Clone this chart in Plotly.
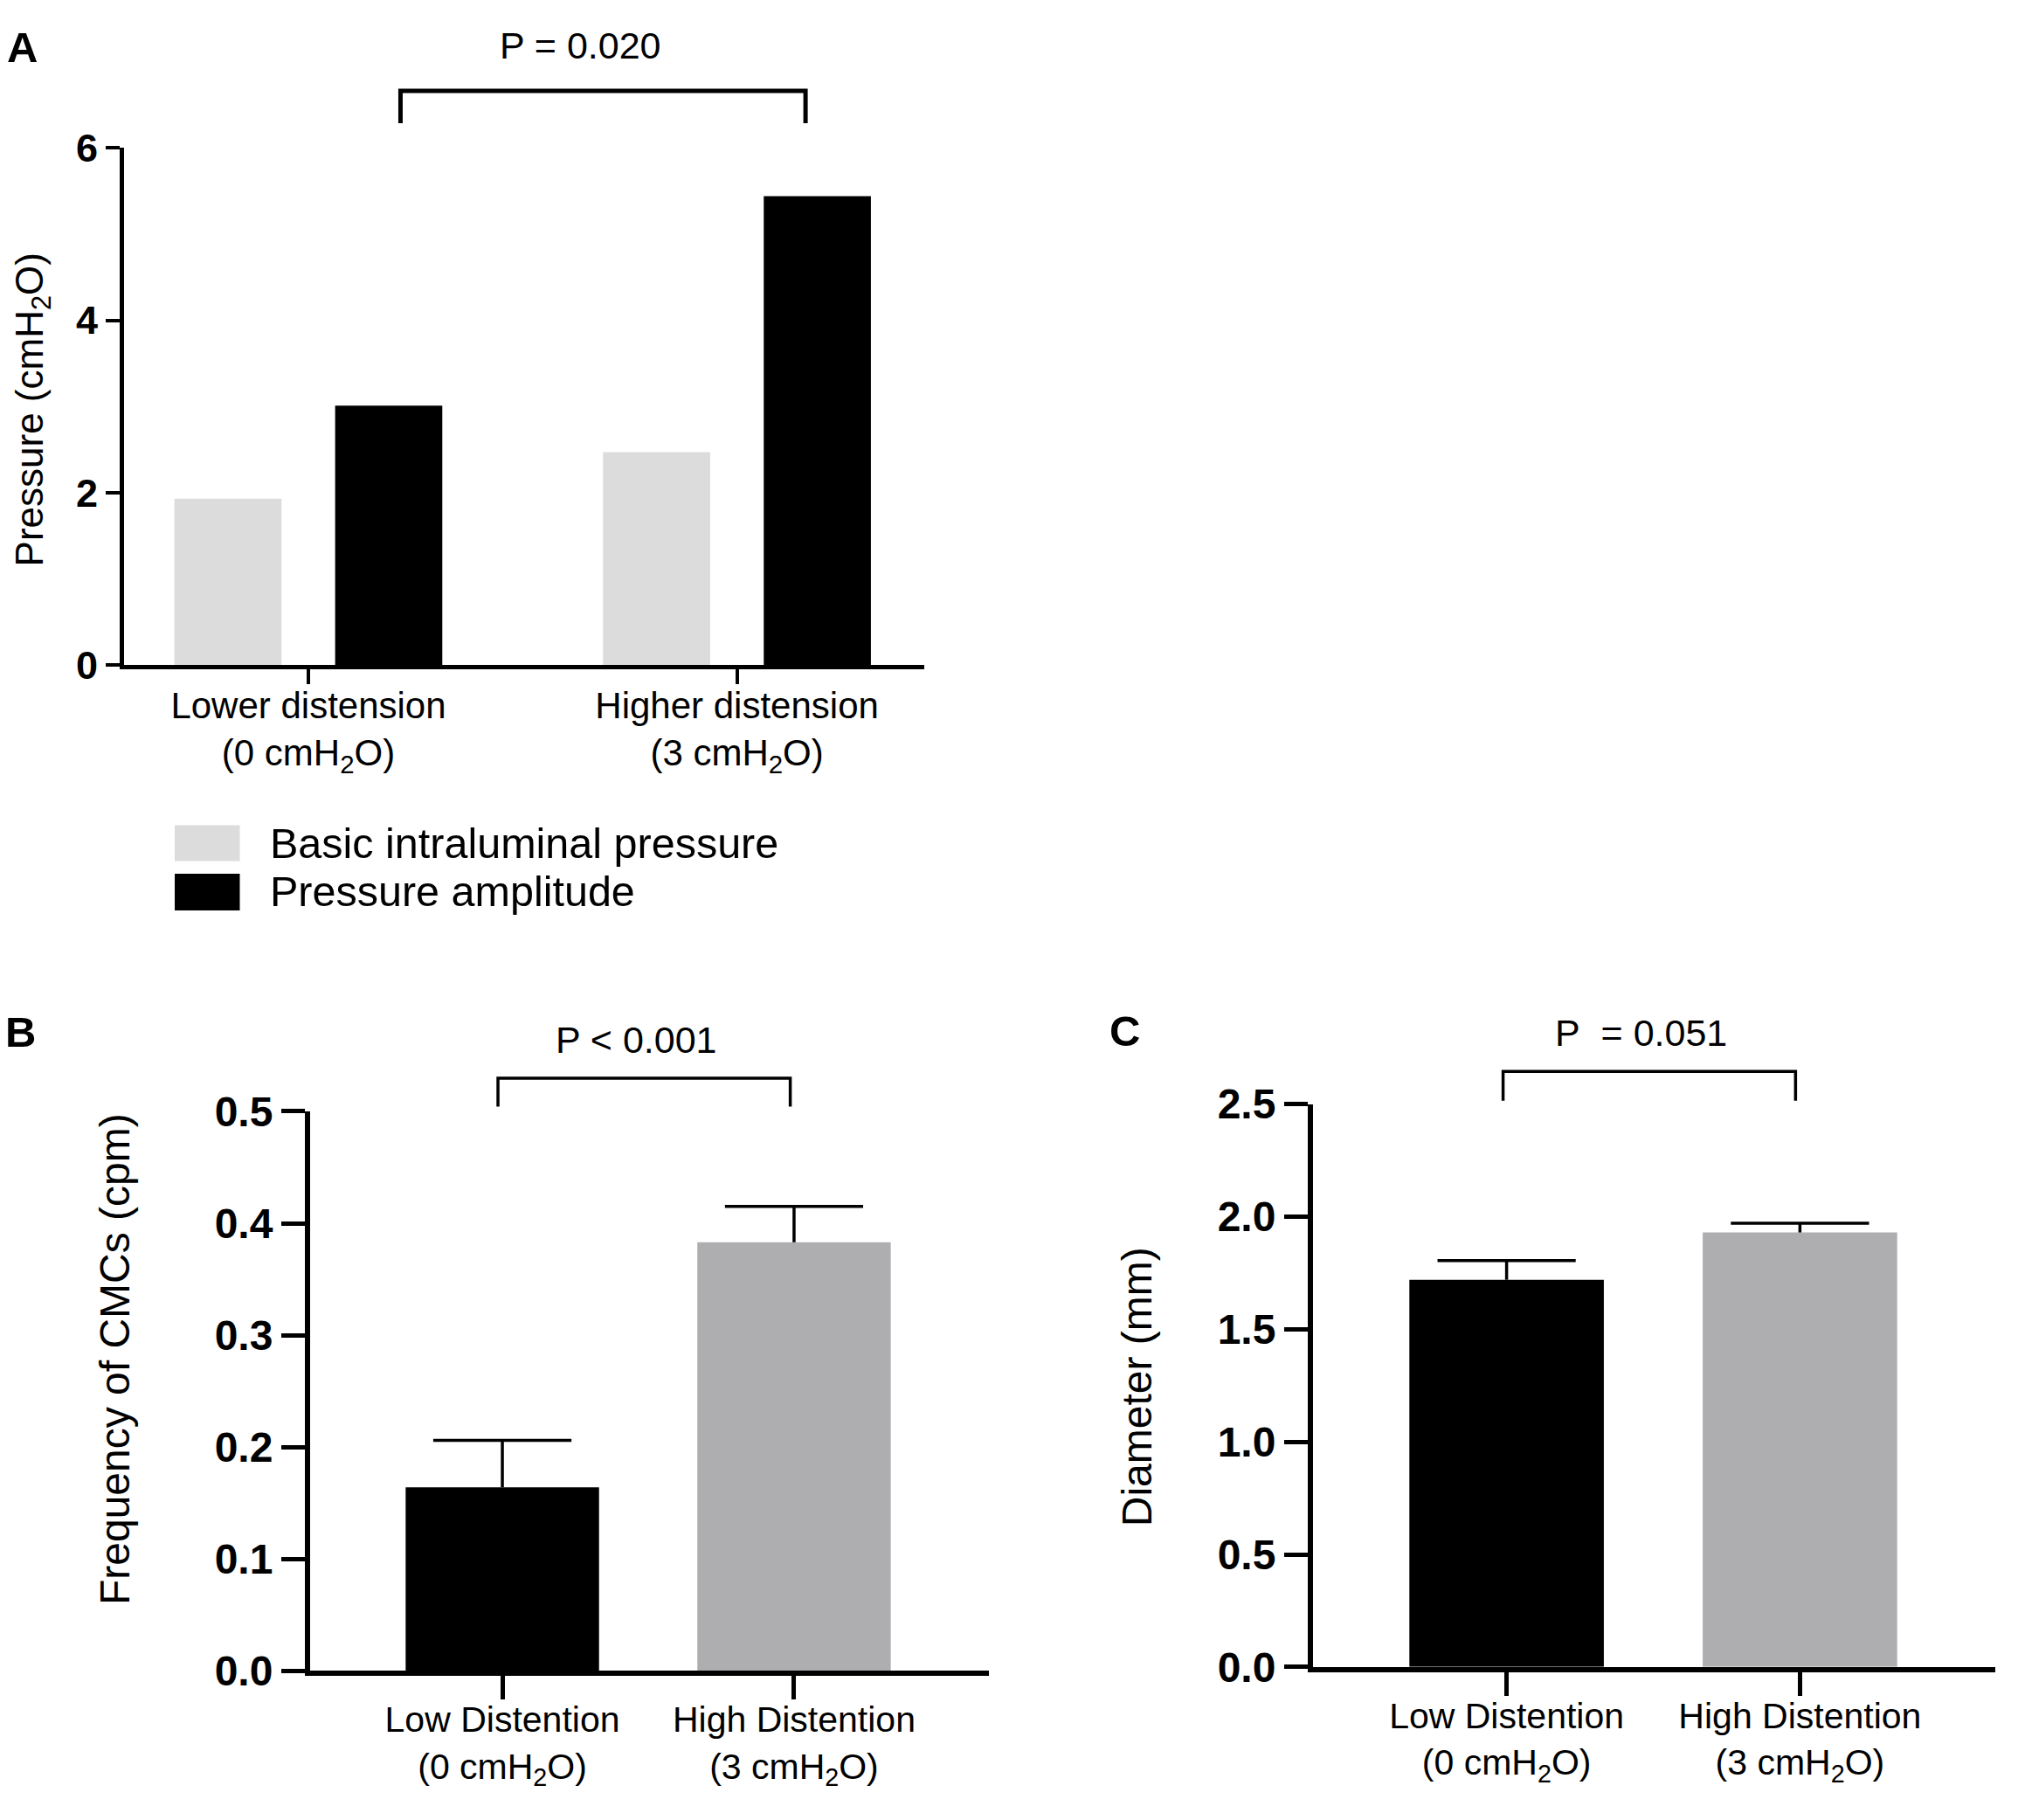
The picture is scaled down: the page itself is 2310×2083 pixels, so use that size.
import plotly.graph_objects as go

# --- data ---
# panel A: pressure by distension
groups_a = ['Lower distension<br>(0 cmH<sub>2</sub>O)', 'Higher distension<br>(3 cmH<sub>2</sub>O)']
basic_pressure = [1.93, 2.47]
pressure_amplitude = [3.01, 5.44]
legend_a = ['Basic intraluminal pressure', 'Pressure amplitude']
p_text_a = 'P = 0.020'

# panels B and C share the groups
groups_bc = ['Low Distention<br>(0 cmH<sub>2</sub>O)', 'High Distention<br>(3 cmH<sub>2</sub>O)']

# panel B: frequency of CMCs (mean, upper error)
cmc_freq = [0.164, 0.383]
cmc_err = [0.042, 0.032]
p_text_b = 'P < 0.001'

# panel C: diameter (mean, upper error)
diameter = [1.72, 1.93]
diameter_err = [0.085, 0.041]
p_text_c = 'P\u00a0 = 0.051'

W, H = 2310, 2083
FONT = 'Liberation Sans, Arial, Helvetica, sans-serif'
LIGHT = '#dcdcdc'
GREY = '#aeaeb0'


def fx(px):
    return px / W


def fy(py):
    return 1 - py / H


# plot areas in pixels
panel_a = dict(left=142, right=1058, top=147, bottom=754.5, xr=[-0.43, 1.437], yr=[0, 6])
panel_b = dict(left=355, right=1132, top=1278.5, bottom=1935.5, xr=[-0.659, 1.668], yr=[0, 0.5])
panel_c = dict(left=1503, right=2284, top=1270, bottom=1931, xr=[-0.66, 1.666], yr=[0, 2.5])


def data_px(p, v):
    x0, x1 = p['xr']
    return p['left'] + (v - x0) / (x1 - x0) * (p['right'] - p['left'])


fig = go.Figure()

# panel A bars
fig.add_trace(go.Bar(x=groups_a, y=basic_pressure, width=0.25, offset=-0.3125,
                     marker=dict(color=LIGHT, line=dict(width=0)), name=legend_a[0],
                     xaxis='x', yaxis='y'))
fig.add_trace(go.Bar(x=groups_a, y=pressure_amplitude, width=0.25, offset=0.0625,
                     marker=dict(color='black', line=dict(width=0)), name=legend_a[1],
                     xaxis='x', yaxis='y'))

# panels B and C bars with upper error bars
for vals, errs, xa, ya in [(cmc_freq, cmc_err, 'x2', 'y2'), (diameter, diameter_err, 'x3', 'y3')]:
    fig.add_trace(go.Bar(x=groups_bc, y=vals, width=0.663,
                         marker=dict(color=['black', GREY], line=dict(width=0)),
                         error_y=dict(type='data', array=errs, arrayminus=[0, 0], symmetric=False,
                                      width=0, thickness=3.5, color='black'),
                         xaxis=xa, yaxis=ya))
    # caps of the error bars
    fig.add_trace(go.Scatter(x=groups_bc, y=[v + e for v, e in zip(vals, errs)], mode='markers',
                             marker=dict(symbol='line-ew', size=113, color='black',
                                         line=dict(width=3.5, color='black')),
                             hoverinfo='skip', xaxis=xa, yaxis=ya))


def x_axis(p, anchor, size, lw, tlen, twidth, standoff):
    return dict(domain=[fx(p['left']), fx(p['right'])], range=p['xr'], anchor=anchor,
                showline=True, linewidth=lw, linecolor='black', ticks='outside', ticklen=tlen,
                tickwidth=twidth, tickcolor='black', showgrid=False, zeroline=False,
                ticklabelstandoff=standoff,
                tickfont=dict(size=size, color='black', family=FONT), fixedrange=True)


def y_axis(p, anchor, size, lw, tlen, twidth, vals, fmt):
    return dict(domain=[fy(p['bottom']), fy(p['top'])], range=p['yr'], anchor=anchor,
                showline=True, linewidth=lw, linecolor='black', ticks='outside', ticklen=tlen,
                tickwidth=twidth, tickcolor='black', showgrid=False, zeroline=False,
                tickvals=vals, tickformat=fmt,
                tickfont=dict(size=size, color='black', family=FONT, weight='bold'), fixedrange=True)


fig.update_layout(
    width=W, height=H,
    margin=dict(l=0, r=0, t=0, b=0),
    paper_bgcolor='white', plot_bgcolor='white',
    font=dict(family=FONT, color='black'),
    barmode='overlay',
    showlegend=False,
    xaxis=x_axis(panel_a, 'y', 42, 5, 17, 4, -12),
    yaxis=y_axis(panel_a, 'x', 45, 5, 16, 4, [0, 2, 4, 6], 'd'),
    xaxis2=x_axis(panel_b, 'y2', 41, 6, 27, 4.5, -12),
    yaxis2=y_axis(panel_b, 'x2', 48, 6, 27, 4.5, [0, 0.1, 0.2, 0.3, 0.4, 0.5], '.1f'),
    xaxis3=x_axis(panel_c, 'y3', 41, 6, 27, 4.5, -12),
    yaxis3=y_axis(panel_c, 'x3', 48, 6, 27, 4.5, [0, 0.5, 1.0, 1.5, 2.0, 2.5], '.1f'),
)

# significance brackets
shapes = []
for p, (b0, b1), y_top, y_bot, lw in [(panel_a, (0.215, 1.16), 80, 118, 5),
                                       (panel_b, (-0.015, 0.987), 1239.5, 1273, 3.5),
                                       (panel_c, (-0.012, 0.985), 1231.5, 1266, 3.5)]:
    xl, xr = fx(data_px(p, b0)), fx(data_px(p, b1))
    shapes.append(dict(type='path', xref='paper', yref='paper',
                       path=f'M {xl},{fy(y_bot)} L {xl},{fy(y_top)} L {xr},{fy(y_top)} L {xr},{fy(y_bot)}',
                       line=dict(color='black', width=lw)))

# legend swatches for panel A
shapes.append(dict(type='rect', xref='paper', yref='paper', x0=fx(200), x1=fx(274.5),
                   y0=fy(984.5), y1=fy(942.5), fillcolor=LIGHT, line=dict(width=0)))
shapes.append(dict(type='rect', xref='paper', yref='paper', x0=fx(200), x1=fx(274.5),
                   y0=fy(1042.5), y1=fy(999.5), fillcolor='black', line=dict(width=0)))
fig.update_layout(shapes=shapes)


def note(text, x, y, size, bold=False, angle=0, xanchor='center'):
    fig.add_annotation(text=text, x=fx(x), y=fy(y), xref='paper', yref='paper',
                       xanchor=xanchor, yanchor='middle', showarrow=False, textangle=angle,
                       font=dict(size=size, color='black', family=FONT,
                                 weight='bold' if bold else 'normal'))


# panel letters
note('A', 25.5, 29, 49, bold=True)
note('B', 23, 1185, 49, bold=True)
note('C', 1287, 1184, 49, bold=True)

# p values
note(p_text_a, 664, 27, 43)
note(p_text_b, 728, 1194, 43)
note(p_text_c, 1878, 1186, 43)

# y axis titles
note('Pressure (cmH<sub>2</sub>O)', 37, 455, 44, angle=-90)
note('Frequency of CMCs (cpm)', 131, 1570, 48, angle=-90)
note('Diameter (mm)', 1301, 1602, 48, angle=-90)

# legend labels
note(legend_a[0], 307, 964, 48.5, xanchor='left')
note(legend_a[1], 307, 1020, 48.5, xanchor='left')

# drop the default page margin so the figure sits at the window origin
fig.write_html('out.html', config={'displayModeBar': False},
               post_script="document.body.style.margin='0';")
